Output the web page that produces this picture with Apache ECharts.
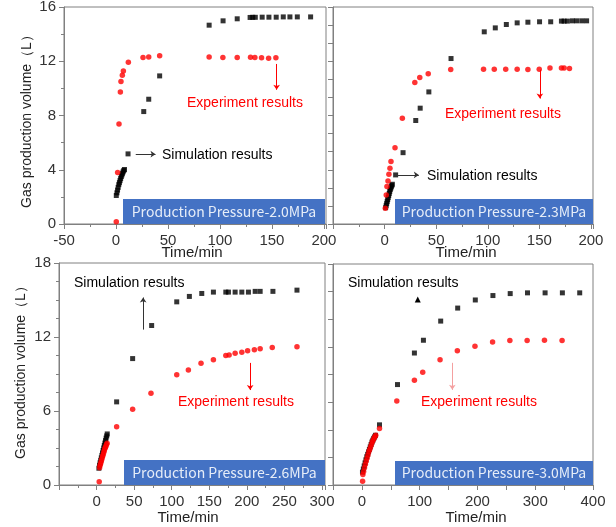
<!DOCTYPE html>
<html>
<head>
<meta charset="utf-8">
<style>
  html, body { margin: 0; padding: 0; background: #fff; }
  #chart { width: 616px; height: 527px; }
</style>
<script src="https://cdn.jsdelivr.net/npm/echarts@6/dist/echarts.min.js"></script>
</head>
<body>
<div id="chart"></div>
<script>
// [time (min), gas volume (L)]
const simTL = [[0.3,2.1],[0.9,2.3],[1.5,2.5],[2.1,2.7],[2.7,2.9],[3.3,3.05],[3.9,3.2],[4.5,3.35],[5.1,3.5],[5.7,3.62],[6.3,3.74],[6.9,3.85],[7.5,3.95],[8.2,4.02],
  [11.6,5.17],[26.7,8.29],[31.5,9.2],[42,10.92],[89.6,14.66],[103,14.98],[116.6,15.13],[129,15.23],[131.5,15.24],[134,15.24],
  [140.6,15.25],[147.1,15.25],[154.1,15.25],[160.9,15.27],[167.3,15.27],[174.4,15.27],[187.2,15.27]];
const expTL = [[0.3,0.17],[1.6,3.8],[2.9,7.38],[4.2,9.74],[4.8,10.5],[6.1,10.97],[7.1,11.29],[11.9,11.93],[26,12.28],[31.5,12.32],[42,12.4],
  [89.6,12.32],[102.8,12.28],[116.6,12.28],[129.4,12.3],[133.6,12.28],[140,12.25],[146.8,12.23],[153.8,12.26]];

const simTR = [[1.0,1.2],[1.5,1.35],[2.0,1.5],[2.5,1.65],[3.0,1.8],[3.5,1.95],[4.0,2.1],[4.5,2.25],[5.0,2.4],[5.5,2.55],[6.0,2.65],[6.5,2.75],[7.0,2.85],[7.5,2.93],
  [10.7,3.62],[17.9,5.26],[30.2,7.63],[34.5,8.54],[42.9,9.74],[64.4,12.2],[96.6,14.17],[107.3,14.46],[118,14.71],[128.5,14.83],[138.9,14.88],
  [150.2,14.91],[161,14.91],[171.4,14.96],[174,14.96],[177.2,14.96],[182.1,14.98],[186.3,14.98],[191.2,14.98],[195.8,14.98]];
const expTR = [[0.7,1.16],[1.6,2.14],[2.3,2.76],[3.3,3.17],[4.2,3.67],[5.2,4.11],[6.2,4.6],[10.1,5.63],[17.2,7.8],[29.3,10.43],[34.1,10.8],[42.3,11.07],
  [64.1,11.39],[95.9,11.41],[106.3,11.41],[117.4,11.41],[128.5,11.41],[138.9,11.39],[149.9,11.41],[160.3,11.51],[171.4,11.51],[174,11.51],[179.2,11.46]];

const simBL = [[3.1,1.36],[3.9,1.6],[4.7,1.8],[5.5,2.0],[6.3,2.2],[7.1,2.4],[7.9,2.6],[8.7,2.8],[9.5,3.0],[10.3,3.2],[11.1,3.4],[11.9,3.6],[12.7,3.8],[13.5,3.98],[14.2,4.14],
  [26.7,6.74],[48,10.25],[73.3,12.93],[106.7,14.85],[123.5,15.29],[140,15.53],[155.5,15.64],[172,15.64],[175.5,15.64],[184.4,15.64],
  [193.3,15.64],[202.1,15.64],[211.1,15.7],[217.7,15.7],[234.7,15.7],[266.7,15.8]];
const expBL = [[3.5,0.27],[4.0,1.4],[4.7,1.6],[5.4,1.75],[6.1,1.9],[6.8,2.05],[7.5,2.2],[8.2,2.35],[8.9,2.5],[9.6,2.65],[10.3,2.8],[11,2.95],[11.7,3.05],[12.4,3.15],[13.2,3.28],[14,3.38],
  [26.7,4.73],[48,6.14],[72.4,7.44],[106.7,8.93],[122.2,9.33],[139,9.88],[155.5,10.15],[172,10.5],[176.4,10.55],[184.4,10.69],
  [193.3,10.77],[201,10.88],[210,10.96],[217.7,11.04],[233.8,11.15],[266.7,11.2]];

const simBR = [[1,1.05],[2.5,1.3],[4,1.55],[5.5,1.8],[7,2.05],[8.5,2.3],[10,2.5],[11.5,2.7],[13,2.9],[14.5,3.1],[16,3.3],[17.5,3.5],[19,3.65],[20.5,3.8],[22,3.92],[23.5,4.05],
  [30.5,4.9],[61.6,8.18],[90.9,10.75],[106.5,11.79],[136.4,13.35],[165.8,14.41],[196.3,15.07],[226.8,15.43],[256.7,15.59],[286.6,15.65],[317.1,15.65],[347,15.65],[377,15.65]];
const expBR = [[1.2,0.3],[1.7,0.85],[3,1.1],[4.5,1.4],[6,1.7],[7.5,1.95],[9,2.2],[10.5,2.45],[12,2.7],[13.5,2.9],[15,3.1],[16.5,3.3],[18,3.5],[19.5,3.65],[21,3.8],[22.5,3.92],[24,4.05],
  [30.5,4.6],[60.4,6.84],[90.9,8.53],[105.3,9.19],[135.3,10.2],[165.2,10.94],[195.7,11.3],[226.2,11.65],[256.1,11.76],[286,11.76],[316,11.79],[346.5,11.76]];

const pressures = ['2.0MPa', '2.3MPa', '2.6MPa', '3.0MPa'];
const xRanges = [[-50, 202, 50], [-50, 202, 50], [-50, 304, 50], [-50, 400, 50]];
const xLabelStep = [50, 50, 50, 100];
const yRanges = [[0, 16, 4], [0, 16, 16 / 12], [0, 18, 6], [0, 18, 2.25]];

// arrows: [from, to] in data coords
const simArrows = [[[19, 5.15], [38, 5.15]], [[11.7, 3.62], [33.2, 3.62]], [[62, 12.6], [62, 15.2]], null];
const expArrows = [[[154.5, 11.8], [154.5, 9.9]], [[150.5, 11.37], [150.5, 9.25]], [[204.4, 9.9], [204.4, 7.7]], [[156.5, 9.95], [156.5, 7.75]]];

const grids = [
  { left: 64, top: 7, width: 262, height: 217 },
  { left: 333, top: 7, width: 260, height: 217 },
  { left: 59, top: 263, width: 266, height: 222 },
  { left: 333, top: 264, width: 260, height: 221 }
];

const gray = '#808080';
const numFont = 'Liberation Sans, Arial, sans-serif';

const option = {
  animation: false,
  backgroundColor: '#fff',
  grid: grids.map(g => Object.assign({
    show: true, borderColor: gray, borderWidth: 1,
    containLabel: false, outerBoundsMode: 'none'
  }, g)),
  xAxis: xRanges.map((r, i) => ({
    type: 'value', gridIndex: i, min: r[0], max: r[1], interval: r[2],
    axisLine: { onZero: false, lineStyle: { color: gray } },
    axisTick: { length: 5, lineStyle: { color: gray } },
    minorTick: { show: i !== 3, splitNumber: 2, length: 3, lineStyle: { color: gray } },
    splitLine: { show: false },
    axisLabel: {
      color: '#333', fontSize: 15, fontFamily: numFont, margin: 9,
      formatter: v => {
        if (Math.abs(v % xLabelStep[i]) > 1e-6) return '';
        if (v < 0 && i !== 0) return '';
        return String(v);
      }
    }
  })),
  yAxis: yRanges.map((r, i) => ({
    type: 'value', gridIndex: i, min: r[0], max: r[1], interval: r[2],
    axisLine: { show: true, onZero: false, lineStyle: { color: gray } },
    axisTick: { length: 5, lineStyle: { color: gray } },
    minorTick: { show: i === 0 || i === 2, splitNumber: i === 0 ? 2 : 4, length: 3, lineStyle: { color: gray } },
    splitLine: { show: false },
    axisLabel: { show: i === 0 || i === 2, color: '#333', fontSize: 15, fontFamily: numFont, margin: 8 }
  })),
  series: [],
  graphic: []
};

const sims = [simTL, simTR, simBL, simBR];
const exps = [expTL, expTR, expBL, expBR];

sims.forEach((d, i) => {
  const s = {
    type: 'scatter', xAxisIndex: i, yAxisIndex: i, data: d,
    symbol: 'rect', symbolSize: 5, itemStyle: { color: '#000' }
  };
  if (simArrows[i]) {
    s.markLine = {
      silent: true, symbol: ['none', 'arrow'], symbolSize: 5,
      label: { show: false }, lineStyle: { color: '#333', width: 1, type: 'solid' },
      emphasis: { disabled: true },
      data: [[{ coord: simArrows[i][0] }, { coord: simArrows[i][1] }]]
    };
  } else {
    s.markPoint = {
      silent: true, symbol: 'triangle', symbolSize: 6, label: { show: false },
      itemStyle: { color: '#000' }, data: [{ coord: [96.7, 15.1] }]
    };
  }
  option.series.push(s);
});

exps.forEach((d, i) => {
  option.series.push({
    type: 'scatter', xAxisIndex: i, yAxisIndex: i, data: d,
    symbol: 'circle', symbolSize: 5.5, itemStyle: { color: '#ff0000' },
    markLine: {
      silent: true, symbol: ['none', 'arrow'], symbolSize: 5,
      label: { show: false },
      emphasis: { disabled: true },
      lineStyle: { color: i === 3 ? '#f4a0a0' : '#ff0000', width: 1, type: 'solid' },
      data: [[{ coord: expArrows[i][0] }, { coord: expArrows[i][1], itemStyle: { color: '#ff0000' } }]]
    }
  });
});

// pressure boxes
const boxes = [
  [123, 199, 202, 25], [395, 199, 198, 25], [124, 460, 201, 25], [395, 461, 198, 24]
];
boxes.forEach((b, i) => {
  option.graphic.push({
    type: 'rect', z: 1, shape: { x: b[0], y: b[1], width: b[2], height: b[3] },
    style: { fill: '#4472c4' }
  });
  option.graphic.push({
    type: 'text', z: 3, x: b[0] + b[2] / 2, y: b[1] + b[3] / 2,
    style: {
      text: 'Production Pressure-' + pressures[i], fill: '#e6edf8',
      font: '14px "Noto Sans CJK SC", "Noto Sans", sans-serif',
      align: 'center', verticalAlign: 'middle'
    }
  });
});

// annotation texts [x, y, text, colour]
const notes = [
  [162, 155, 'Simulation results', '#000'], [187, 103, 'Experiment results', '#ff0000'],
  [427, 176, 'Simulation results', '#000'], [445, 114, 'Experiment results', '#ff0000'],
  [74, 283, 'Simulation results', '#000'], [178, 402, 'Experiment results', '#ff0000'],
  [348, 283, 'Simulation results', '#000'], [421, 402, 'Experiment results', '#ff0000']
];
notes.forEach(n => {
  option.graphic.push({
    type: 'text', z: 3, x: n[0], y: n[1],
    style: { text: n[2], fill: n[3], font: '14px ' + numFont, align: 'left', verticalAlign: 'middle' }
  });
});

// axis titles
[[192, 253], [466, 253], [188, 518], [476, 518]].forEach(p => {
  option.graphic.push({
    type: 'text', z: 3, x: p[0], y: p[1],
    style: { text: 'Time/min', fill: '#222', font: '15px ' + numFont, align: 'center', verticalAlign: 'middle' }
  });
});
[[27, 118], [21, 369]].forEach(p => {
  option.graphic.push({
    type: 'text', z: 3, x: p[0], y: p[1], rotation: Math.PI / 2,
    style: { text: 'Gas production volume（L）', fill: '#222', font: '14px ' + numFont, align: 'center', verticalAlign: 'middle' }
  });
});

const chart = echarts.init(document.getElementById('chart'), null, { renderer: 'canvas' });
chart.setOption(option);
</script>
</body>
</html>
